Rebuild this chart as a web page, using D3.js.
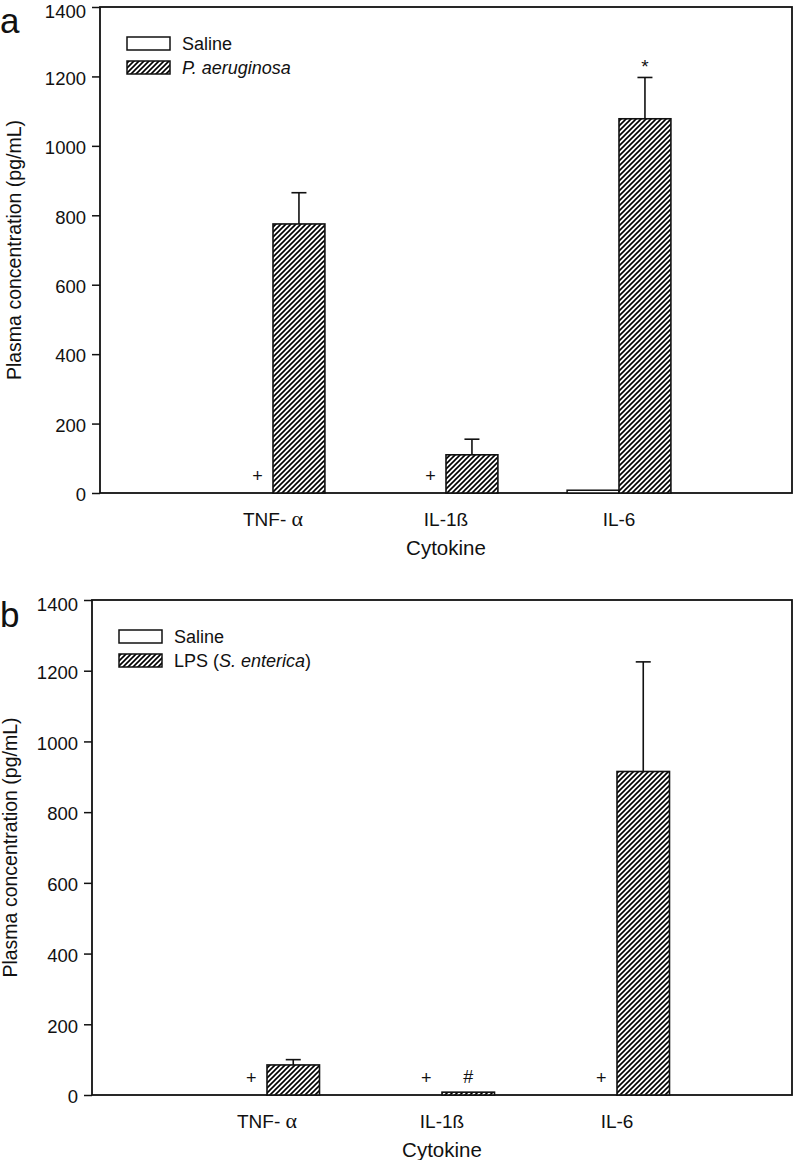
<!DOCTYPE html>
<html><head><meta charset="utf-8">
<script src="https://cdn.jsdelivr.net/npm/d3@7"></script>
<style>body{margin:0;background:#fff}svg{display:block}text{font-family:"Liberation Sans",Arial,sans-serif;fill:#111}</style>
</head><body>
<script>
const categories = ["TNF-α", "IL-1ß", "IL-6"];
const yTicks = [0, 200, 400, 600, 800, 1000, 1200, 1400];
// Panel a
const salineA = [0, 0, 8];
const pseudA = [775, 110, 1078];
const pseudAErr = [90, 45, 119];
const markersA = [{cat: 0, side: "saline", text: "+"}, {cat: 1, side: "saline", text: "+"}, {cat: 2, side: "treat", text: "*"}];
// Panel b
const salineB = [0, 0, 0];
const lpsB = [85, 8, 915];
const lpsBErr = [15, 0, 310];
const markersB = [{cat: 0, side: "saline", text: "+"}, {cat: 1, side: "saline", text: "+"}, {cat: 1, side: "treat", text: "#"}, {cat: 2, side: "saline", text: "+"}];

const svg = d3.select("body").append("svg").attr("width", 800).attr("height", 1160);
const defs = svg.append("defs");
const pat = defs.append("pattern").attr("id", "hatch").attr("patternUnits", "userSpaceOnUse")
  .attr("width", 5).attr("height", 5);
pat.append("rect").attr("width", 5).attr("height", 5).attr("fill", "#fff");
pat.append("path").attr("d", "M-1,6 L6,-1 M-2,2 L2,-2 M3,7 L7,3").attr("stroke", "#000").attr("stroke-width", 1.6);

function drawPanel(o) {
  const g = svg.append("g");
  const x = d3.scaleLinear().domain([0, 4]).range([o.left, o.right]);
  const y = d3.scaleLinear().domain([0, 1400]).range([o.bottom, o.top]);
  const bw = x(0.3) - x(0);
  g.append("rect").attr("x", o.left).attr("y", o.top).attr("width", o.right - o.left).attr("height", o.bottom - o.top)
    .attr("fill", "none").attr("stroke", "#111").attr("stroke-width", 1.8);
  const ax = g.append("g").attr("transform", `translate(${o.left},0)`)
    .call(d3.axisLeft(y).tickValues(yTicks).tickSize(8).tickPadding(6).tickFormat(d3.format("d")));
  ax.select(".domain").remove();
  ax.selectAll("line").attr("stroke", "#111").attr("stroke-width", 1.5);
  ax.selectAll("text").style("font-size", "18.5px").attr("fill", "#111").attr("dy", d => d === 1400 ? "0.58em" : "0.42em");
  categories.forEach((c, i) => {
    const cx = x(i + 1);
    const sv = o.saline[i], tv = o.treat[i], te = o.err[i];
    if (sv > 0) g.append("rect").attr("x", cx - bw).attr("y", y(sv)).attr("width", bw).attr("height", y(0) - y(sv))
      .attr("fill", "#fff").attr("stroke", "#111").attr("stroke-width", 1.5);
    if (te > 0) {
      g.append("line").attr("x1", cx + bw / 2).attr("x2", cx + bw / 2).attr("y1", y(tv)).attr("y2", y(tv + te)).attr("stroke", "#111").attr("stroke-width", 1.6);
      g.append("line").attr("x1", cx + bw / 2 - 7.5).attr("x2", cx + bw / 2 + 7.5).attr("y1", y(tv + te)).attr("y2", y(tv + te)).attr("stroke", "#111").attr("stroke-width", 1.6);
    }
    g.append("rect").attr("x", cx).attr("y", y(tv)).attr("width", bw).attr("height", y(0) - y(tv))
      .attr("fill", "url(#hatch)").attr("stroke", "#111").attr("stroke-width", 1.6);
    const t = g.append("text").attr("x", cx).attr("y", o.bottom + 33).attr("text-anchor", "middle").style("font-size", "19px");
    if (c === "TNF-α") {
      t.append("tspan").text("TNF- ");
      t.append("tspan").text("α").style("font-family", "'Liberation Serif',serif").style("font-size", "22px");
    } else t.text(c);
  });
  o.markers.forEach(m => {
    const cx = x(m.cat + 1);
    let mx, my;
    if (m.side === "saline") { mx = cx - bw * 0.3; my = o.bottom - 11; }
    else {
      const top = o.treat[m.cat] + o.err[m.cat];
      mx = cx + bw / 2; my = y(top) - (m.text === "*" ? 4 : 9);
    }
    g.append("text").attr("x", mx).attr("y", my).attr("text-anchor", "middle").style("font-size", m.text === "*" ? "19px" : "18px").text(m.text);
  });
  g.append("text").attr("x", (o.left + o.right) / 2).attr("y", o.bottom + 62).attr("text-anchor", "middle").style("font-size", "20.5px").text("Cytokine");
  g.append("text").attr("transform", `translate(${o.ytx},${(o.top + o.bottom) / 2}) rotate(-90)`).attr("text-anchor", "middle")
    .style("font-size", "19.5px").text("Plasma concentration (pg/mL)");
  g.append("text").attr("x", o.labelX).attr("y", o.labelY).style("font-size", "35px").text(o.label);
  const lx = o.left + 27, ly = o.top + 30;
  g.append("rect").attr("x", lx).attr("y", ly).attr("width", 43).attr("height", 13).attr("fill", "#fff").attr("stroke", "#111").attr("stroke-width", 1.5);
  g.append("rect").attr("x", lx).attr("y", ly + 24).attr("width", 43).attr("height", 13).attr("fill", "url(#hatch)").attr("stroke", "#111").attr("stroke-width", 1.5);
  g.append("text").attr("x", lx + 55).attr("y", ly + 13).style("font-size", "18px").text("Saline");
  const lt = g.append("text").attr("x", lx + 55).attr("y", ly + 37).style("font-size", "18px");
  o.legendText.forEach(p => lt.append("tspan").text(p.t).style("font-style", p.i ? "italic" : "normal"));
}

drawPanel({left: 100, right: 792, top: 7, bottom: 493, saline: salineA, treat: pseudA, err: pseudAErr, markers: markersA,
  label: "a", labelX: 0, labelY: 33, ytx: 21, legendText: [{t: "P. aeruginosa", i: true}]});
drawPanel({left: 92, right: 792, top: 600, bottom: 1095, saline: salineB, treat: lpsB, err: lpsBErr, markers: markersB,
  label: "b", labelX: 0, labelY: 627, ytx: 17, legendText: [{t: "LPS (", i: false}, {t: "S. enterica", i: true}, {t: ")", i: false}]});
</script>
</body></html>
